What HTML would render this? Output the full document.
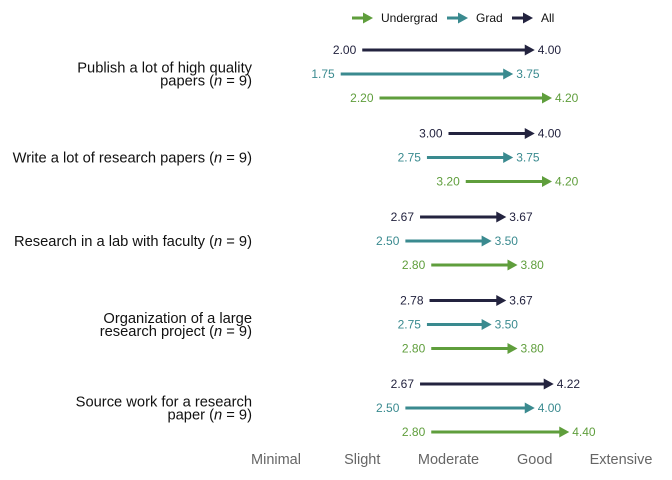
<!DOCTYPE html>
<html><head><meta charset="utf-8">
<style>
body{margin:0;background:#fff;}
svg{display:block;font-family:"Liberation Sans",sans-serif;}
</style></head>
<body>
<svg id="chart" width="672" height="480"></svg>
<script>
const questions=[["Publish a lot of high quality","papers (n = 9)"],["Write a lot of research papers (n = 9)"],["Research in a lab with faculty (n = 9)"],["Organization of a large","research project (n = 9)"],["Source work for a research","paper (n = 9)"]];
const allStart=[2.00,3.00,2.67,2.78,2.67];
const allEnd=[4.00,4.00,3.67,3.67,4.22];
const gradStart=[1.75,2.75,2.50,2.75,2.50];
const gradEnd=[3.75,3.75,3.50,3.50,4.00];
const ugStart=[2.20,3.20,2.80,2.80,2.80];
const ugEnd=[4.20,4.20,3.80,3.80,4.40];
const tickLabels=["Minimal","Slight","Moderate","Good","Extensive"];
const tickValues=[1,2,3,4,5];

const NS="http://www.w3.org/2000/svg";
const svg=document.getElementById("chart");
const x=v=>276+(v-1)*86.25;
const groupY=i=>50+i*83.5;
function mk(tag,attrs,parent){const e=document.createElementNS(NS,tag);for(const k in attrs)e.setAttribute(k,attrs[k]);(parent||svg).appendChild(e);return e;}
function arrow(x1,x2,y,color,g){
  mk("line",{x1:x1,y1:y,x2:x2-9,y2:y,stroke:color,"stroke-width":3},g);
  mk("path",{d:`M${x2},${y} L${x2-10},${y-5.5} L${x2-10},${y+5.5} Z`,fill:color},g);
}
const series=[
  {name:"all",s:allStart,e:allEnd,c:"#23233f",dy:0},
  {name:"grad",s:gradStart,e:gradEnd,c:"#3a8a8f",dy:24},
  {name:"undergrad",s:ugStart,e:ugEnd,c:"#5f9e3c",dy:48}
];
questions.forEach((q,i)=>{
  const gy=groupY(i);
  const lab=mk("text",{x:252,"text-anchor":"end","font-size":14.7,fill:"#111"});
  
  
  const lines=q.length;
  q.forEach((ln,j)=>{
    const ts=mk("tspan",{x:252,y:gy+24+5+(j-(lines-1)/2)*13},lab);
    const m=ln.split("n =");
    if(m.length===2){ts.appendChild(document.createTextNode(m[0]));const it=mk("tspan",{"font-style":"italic"},ts);it.textContent="n";ts.appendChild(document.createTextNode(" ="+m[1]));}
    else ts.textContent=ln;
  });
  series.forEach(s=>{
    const y=gy+s.dy;
    const g=mk("g",{});
    
    
    arrow(x(s.s[i]),x(s.e[i]),y,s.c,g);
    const t1=mk("text",{x:x(s.s[i])-6,y:y+4,"text-anchor":"end","font-size":12,fill:s.c},g);
    t1.textContent=s.s[i].toFixed(2);
    const t2=mk("text",{x:x(s.e[i])+3,y:y+4,"font-size":12,fill:s.c},g);
    t2.textContent=s.e[i].toFixed(2);
  });
});
tickValues.forEach((v,i)=>{
  const t=mk("text",{x:x(v),y:464,"text-anchor":"middle","font-size":14.5,fill:"#666"});
  
  
  t.textContent=tickLabels[i];
});
const legend=[["Undergrad","#5f9e3c",352],["Grad","#3a8a8f",447],["All","#23233f",512]];
legend.forEach(l=>{
  const g=mk("g",{});
  
  
  arrow(l[2],l[2]+21,18,l[1],g);
  const t=mk("text",{x:l[2]+29,y:22,"font-size":12,fill:"#111"},g);
  t.textContent=l[0];
});
</script>
</body></html>
